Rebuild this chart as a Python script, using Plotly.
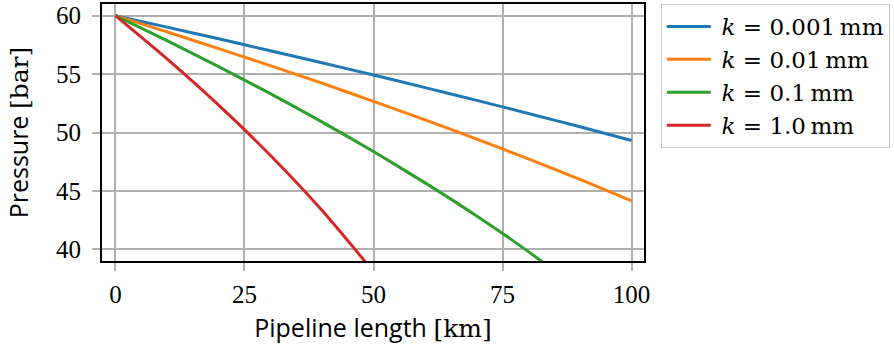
import plotly.graph_objects as go

# Distance along the pipeline [km]
length_km = [0, 10, 20, 30, 40, 50, 60, 70, 80, 90, 100]

# Pressure profiles [bar] for each wall roughness
p_k0001 = [60.00, 59.02, 58.02, 57.00, 55.97, 54.92, 53.84, 52.75, 51.63, 50.49, 49.32]
p_k001 = [60.00, 58.61, 57.18, 55.72, 54.22, 52.67, 51.08, 49.44, 47.74, 45.98, 44.15]
p_k01 = [60.00, 57.86, 55.64, 53.33, 50.91, 48.37, 45.69, 42.85, 39.80, 36.50, 32.86]
p_k1 = [60.00, 56.30, 52.34, 48.05, 43.34, 38.05, 31.90, 24.30, 13.10, 0.0, 0.0]

roughness = ["0.001", "0.01", "0.1", "1.0"]
series_values = [p_k0001, p_k001, p_k01, p_k1]
colors = ["#1f77b4", "#ff7f0e", "#2ca02c", "#d62728"]

x_ticks = [0, 25, 50, 75, 100]
y_ticks = [40, 45, 50, 55, 60]

serif = "Liberation Serif, DejaVu Serif, serif"
legend_serif = "DejaVu Serif, Liberation Serif, serif"
sans = "Open Sans, DejaVu Sans, sans-serif"
FS = 25


def legend_label(r):
    # k = value mm, with a thin gap before the unit
    return f"\u2005<i>k</i> = {r}\u2009mm"


def unit(u):
    return f"<span style='font-family:DejaVu Serif'>[{u}]</span>"


fig = go.Figure()
for r, vals, col in zip(roughness, series_values, colors):
    # trim a profile once pressure has dropped far below the plotted range
    xs, ys = [], []
    for x, v in zip(length_km, vals):
        xs.append(x)
        ys.append(v)
        if v < 30:
            break
    fig.add_trace(go.Scatter(
        x=xs, y=ys, mode="lines", name=legend_label(r),
        line=dict(color=col, width=3, shape="spline", smoothing=0.6),
    ))

axis_common = dict(
    showline=True, linecolor="black", linewidth=2, mirror=True,
    showgrid=True, gridcolor="#b0b0b0", gridwidth=1.5,
    ticks="outside", ticklen=8, tickwidth=1.5, tickcolor="#b0b0b0",
    zeroline=False,
    tickfont=dict(family=serif, size=FS, color="black"),
)

fig.update_layout(
    width=894, height=353,
    margin=dict(l=102, r=250, t=2, b=92),
    paper_bgcolor="white", plot_bgcolor="white",
    xaxis=dict(
        range=[-2.6, 102.4], tickvals=x_ticks,
        title=dict(text="Pipeline length " + unit("km"),
                   font=dict(family=sans, size=FS, color="black"), standoff=12),
        ticklabelstandoff=2,
        **axis_common,
    ),
    yaxis=dict(
        range=[39, 61], tickvals=y_ticks,
        title=dict(text="Pressure " + unit("bar"),
                   font=dict(family=sans, size=FS, color="black"), standoff=20),
        ticklabelstandoff=6,
        **axis_common,
    ),
    legend=dict(
        x=1.031, y=1.0, xanchor="left", yanchor="top",
        bordercolor="#cccccc", borderwidth=1, bgcolor="white",
        font=dict(family=legend_serif, size=23, color="black"),
        itemwidth=44, tracegroupgap=0,
    ),
    showlegend=True,
)

fig.write_html("out.html")
